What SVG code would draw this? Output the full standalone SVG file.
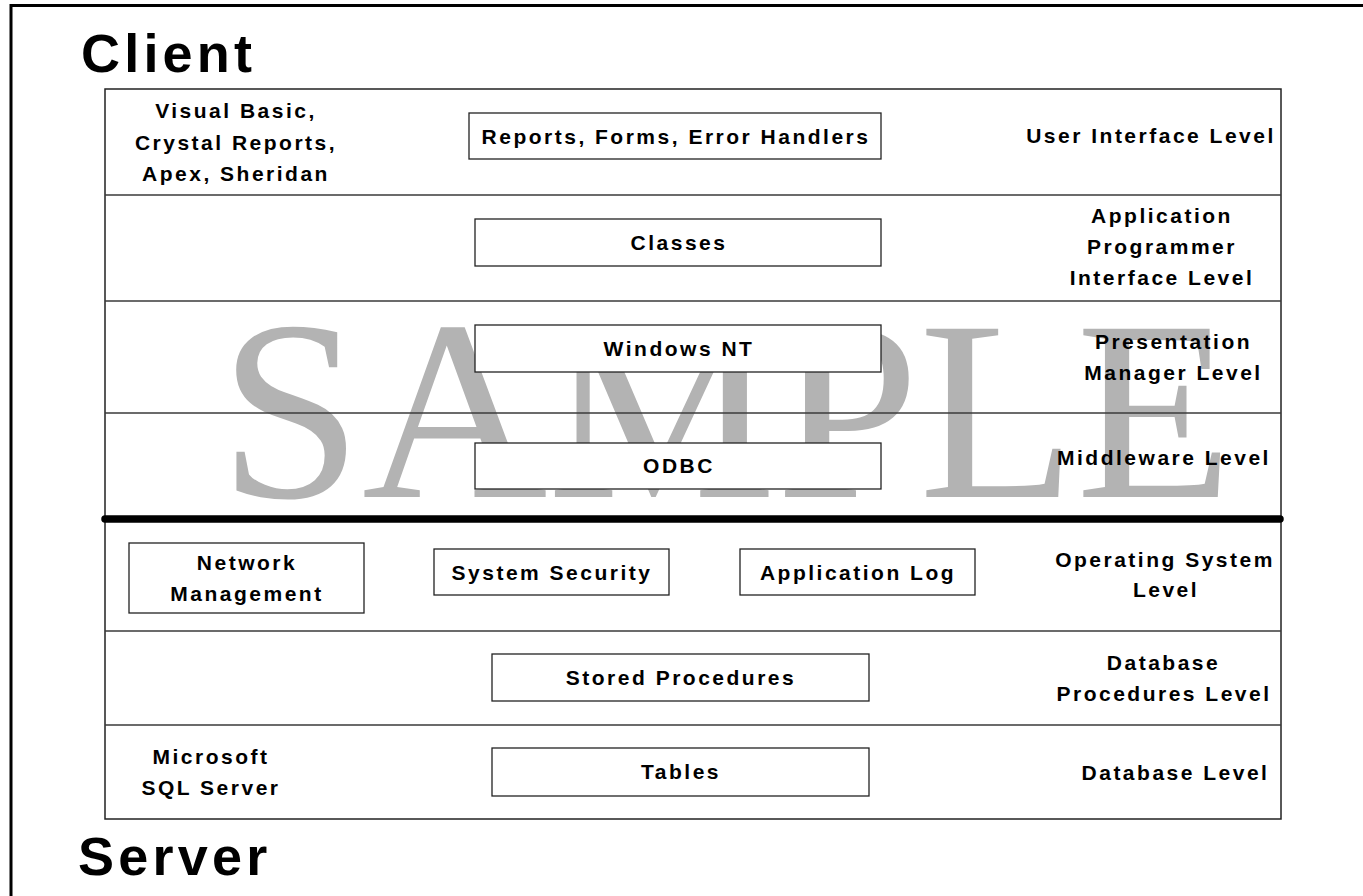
<svg xmlns="http://www.w3.org/2000/svg" width="1363" height="896" viewBox="0 0 1363 896">
  <style>
    .lbl { font-family: "Liberation Sans", Arial, sans-serif; font-weight: bold; font-size: 21px; letter-spacing: 2.5px; fill: #000; text-anchor: middle; }
    .title { font-family: "Liberation Sans", Arial, sans-serif; font-weight: bold; font-size: 54px; letter-spacing: 4.2px; fill: #000; }
    .box { fill: #fff; stroke: #222; stroke-width: 1.3; }
    .div { stroke: #3a3a3a; stroke-width: 1.5; fill: none; }
    .mark { font-family: "Liberation Serif", "Times New Roman", serif; font-size: 257px; fill: #b3b3b3; }
  </style>

  <rect x="0" y="0" width="1363" height="896" fill="#fff"/>

  <!-- outer frame, continues past the page edge -->
  <rect x="11" y="5.5" width="1500" height="1000" fill="none" stroke="#000" stroke-width="3"/>

  <!-- watermark -->
  <text class="mark" x="219" y="497">SAMPLE</text>

  <!-- layer table outline and band dividers -->
  <g id="layer-table">
    <rect x="105" y="89" width="1176" height="730" fill="none" stroke="#222" stroke-width="1.5"/>
    <line class="div" x1="105" y1="195" x2="1281" y2="195"/>
    <line class="div" x1="105" y1="301" x2="1281" y2="301"/>
    <line class="div" x1="105" y1="413" x2="1281" y2="413"/>
    <line class="div" x1="105" y1="631" x2="1281" y2="631"/>
    <line class="div" x1="105" y1="725" x2="1281" y2="725"/>
  </g>

  <!-- client / server boundary -->
  <g id="boundary">
    <line x1="105" y1="519" x2="1280" y2="519" stroke="#000" stroke-width="7.5" stroke-linecap="round"/>
  </g>

  <text id="client" class="title" x="81" y="72">Client</text>
  <text id="server" class="title" x="78" y="875">Server</text>

  <!-- User Interface Level -->
  <g id="user-interface">
    <text class="lbl" x="236" y="118">Visual Basic,</text>
    <text class="lbl" x="236" y="149.5">Crystal Reports,</text>
    <text class="lbl" x="236" y="181">Apex, Sheridan</text>
    <rect class="box" x="469" y="113" width="412" height="46"/>
    <text class="lbl" x="676" y="143.5">Reports, Forms, Error Handlers</text>
    <text class="lbl" x="1151" y="143">User Interface Level</text>
  </g>

  <!-- Application Programmer Interface Level -->
  <g id="api">
    <rect class="box" x="475" y="219" width="406" height="47"/>
    <text class="lbl" x="679" y="249.5">Classes</text>
    <text class="lbl" x="1162" y="223">Application</text>
    <text class="lbl" x="1162" y="254">Programmer</text>
    <text class="lbl" x="1162" y="285">Interface Level</text>
  </g>

  <!-- Presentation Manager Level -->
  <g id="presentation">
    <rect class="box" x="475" y="325" width="406" height="47"/>
    <text class="lbl" x="679" y="355.5">Windows NT</text>
    <text class="lbl" x="1173.5" y="349">Presentation</text>
    <text class="lbl" x="1173.5" y="380">Manager Level</text>
  </g>

  <!-- Middleware Level -->
  <g id="middleware">
    <rect class="box" x="475" y="443" width="406" height="46"/>
    <text class="lbl" x="679" y="473">ODBC</text>
    <text class="lbl" x="1164" y="465">Middleware Level</text>
  </g>

  <!-- Operating System Level -->
  <g id="operating-system">
    <rect class="box" x="129" y="543" width="235" height="70"/>
    <text class="lbl" x="247" y="570">Network</text>
    <text class="lbl" x="247" y="601">Management</text>
    <rect class="box" x="434" y="549" width="235" height="46"/>
    <text class="lbl" x="552" y="579.5">System Security</text>
    <rect class="box" x="740" y="549" width="235" height="46"/>
    <text class="lbl" x="858" y="579.5">Application Log</text>
    <text class="lbl" x="1165" y="567">Operating System</text>
    <text class="lbl" x="1166" y="597">Level</text>
  </g>

  <!-- Database Procedures Level -->
  <g id="db-procedures">
    <rect class="box" x="492" y="654" width="377" height="47"/>
    <text class="lbl" x="681" y="685">Stored Procedures</text>
    <text class="lbl" x="1163.5" y="670">Database</text>
    <text class="lbl" x="1164" y="701">Procedures Level</text>
  </g>

  <!-- Database Level -->
  <g id="database">
    <text class="lbl" x="211" y="764">Microsoft</text>
    <text class="lbl" x="211" y="795">SQL Server</text>
    <rect class="box" x="492" y="748" width="377" height="48"/>
    <text class="lbl" x="681" y="779">Tables</text>
    <text class="lbl" x="1175.5" y="780">Database Level</text>
  </g>
</svg>
